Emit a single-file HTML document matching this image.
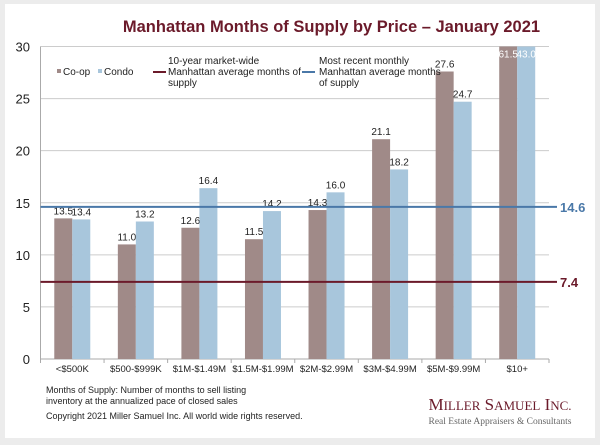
<!DOCTYPE html>
<html><head><meta charset="utf-8"><style>
body{margin:0;width:600px;height:445px;background:#ececec;overflow:hidden;font-family:"Liberation Sans",Arial,sans-serif}
svg{position:absolute;left:0;top:0}
</style></head><body>
<svg id="c" width="600" height="445">
<rect x="5" y="4" width="590" height="434" fill="#fff"/>
<text x="331.5" y="32" text-anchor="middle" font-size="16.5" font-weight="bold" fill="#6b1a2a">Manhattan Months of Supply by Price – January 2021</text>
<g id="grid"></g><g id="bars"></g><g id="refs"></g>
<g font-size="10" fill="#222">
<rect x="57" y="69" width="4" height="4" fill="#a08a88"/>
<text x="63" y="75">Co-op</text>
<rect x="98" y="69" width="4" height="4" fill="#a8c6dc"/>
<text x="104" y="75">Condo</text>
<line x1="153" y1="72" x2="166" y2="72" stroke="#6b1a2a" stroke-width="2"/>
<text x="168" y="64"><tspan x="168">10-year market-wide</tspan><tspan x="168" dy="11">Manhattan average months of</tspan><tspan x="168" dy="11">supply</tspan></text>
<line x1="302" y1="72" x2="315" y2="72" stroke="#4a78a8" stroke-width="2"/>
<text x="319" y="64"><tspan x="319">Most recent monthly</tspan><tspan x="319" dy="11">Manhattan average months</tspan><tspan x="319" dy="11">of supply</tspan></text>
</g>
<g font-size="9" fill="#222">
<text x="46" y="393"><tspan x="46">Months of Supply: Number of months to sell listing</tspan><tspan x="46" dy="11">inventory at the annualized pace of closed sales</tspan></text>
<text x="46" y="419">Copyright 2021 Miller Samuel Inc.  All world wide rights reserved.</text>
</g>
<text x="500" y="410" text-anchor="middle" font-family="Liberation Serif,serif" font-size="17" fill="#6b1a2a">M<tspan font-size="13">ILLER</tspan> S<tspan font-size="13">AMUEL</tspan> I<tspan font-size="13">NC.</tspan></text>
<text x="500" y="424" text-anchor="middle" font-family="Liberation Serif,serif" font-size="9.5" fill="#666">Real Estate Appraisers &amp; Consultants</text>
</svg>
<script>
const categories=["<$500K","$500-$999K","$1M-$1.49M","$1.5M-$1.99M","$2M-$2.99M","$3M-$4.99M","$5M-$9.99M","$10+"];
const coop=[13.5,11.0,12.6,11.5,14.3,21.1,27.6,61.5];
const condo=[13.4,13.2,16.4,14.2,16.0,18.2,24.7,43.0];
const yTicks=[0,5,10,15,20,25,30];
const avg10yr=7.4;
const recent=14.6;
const NS="http://www.w3.org/2000/svg";
const X0=40.5,X1=549,Y0=359,YT=46.5,YMAX=30,BW=18;
const STEP=(X1-X0)/categories.length;
const y=v=>Y0-(Math.min(v,YMAX)/YMAX)*(Y0-YT);
const cx=i=>X0+STEP*(i+0.5);
function mk(tag,attrs,parent){const e=document.createElementNS(NS,tag);for(const k in attrs)e.setAttribute(k,attrs[k]);document.getElementById(parent).appendChild(e);return e;}
yTicks.forEach(t=>{
 const l=mk('line',{x1:X0,x2:X1,y1:y(t),y2:y(t),stroke:t===0?'#aaa':'#ccc','stroke-width':1},'grid');
 
 
 const tx=mk('text',{x:30,y:y(t)+5,'text-anchor':'end','font-size':13,fill:'#222'},'grid');tx.textContent=t;
 
 
});
mk('line',{x1:X0,x2:X0,y1:YT,y2:Y0,stroke:'#aaa'},'grid');
for(let i=0;i<=categories.length;i++)mk('line',{x1:X0+STEP*i,x2:X0+STEP*i,y1:Y0,y2:Y0+4,stroke:'#aaa'},'grid');
categories.forEach((c,i)=>{
 const tx=mk('text',{x:cx(i),y:372,'text-anchor':'middle','font-size':9.5,fill:'#222'},'grid');tx.textContent=c;
 
 
 [[coop,'#a08a88',-BW,'coop'],[condo,'#a8c6dc',0,'condo']].forEach(([s,col,off,nm])=>{
  const v=s[i],top=y(v);
  const r=mk('rect',{x:cx(i)+off,y:top,width:BW,height:Y0-top,fill:col},'bars');
  
  
  const clipped=v>YMAX;
  const t=mk('text',{x:cx(i)+off+BW/2,y:clipped?top+11:top-4,'text-anchor':'middle','font-size':10,fill:clipped?'#fff':'#222'},'bars');
  t.textContent=v.toFixed(1);
  
  
 });
});
[[recent,'#4a78a8','recent-line'],[avg10yr,'#6b1a2a','ten-year-line']].forEach(([v,col,nm])=>{
 const l=mk('line',{x1:X0,x2:557,y1:y(v),y2:y(v),stroke:col,'stroke-width':2},'refs');
 
 
 const t=mk('text',{x:560,y:y(v)+5,'font-size':13,'font-weight':'bold',fill:col},'refs');t.textContent=v.toFixed(1);
 
 
});
</script>
</body></html>
